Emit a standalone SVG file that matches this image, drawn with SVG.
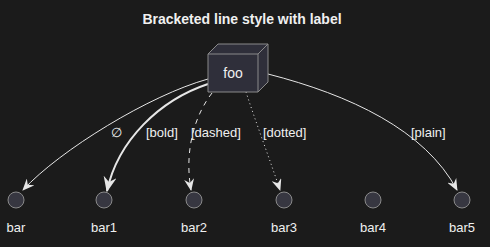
<svg xmlns="http://www.w3.org/2000/svg" width="490" height="247" viewBox="0 0 490 247">
<defs>
<style>
text{font-family:"Liberation Sans",Arial,sans-serif;fill:#f0f0f0}
.t{font-size:14px;font-weight:bold;text-anchor:middle}
.l{font-size:13px}
.n{font-size:13px;text-anchor:middle}
.c{fill:#373741;stroke:#8a8a8a;stroke-width:1}
.e{fill:none;stroke:#e6e6e6;stroke-width:1}
.box{fill:#2f2f3a;stroke:#8a8a8a;stroke-width:1}
</style>
<marker id="a" viewBox="0 0 12 10" refX="11" refY="5" markerWidth="12" markerHeight="10" markerUnits="userSpaceOnUse" orient="auto">
<path d="M0,0 L12,5 L0,10 L4,5 Z" fill="#e6e6e6"/>
</marker>
<marker id="ab" viewBox="0 0 12 10" refX="11" refY="5" markerWidth="16" markerHeight="13" markerUnits="userSpaceOnUse" orient="auto">
<path d="M0,0 L12,5 L0,10 L4,5 Z" fill="#e6e6e6"/>
</marker>
</defs>
<rect width="490" height="247" fill="#1b1b1b"/>
<text class="t" x="242" y="24">Bracketed line style with label</text>
<g id="connectors">
<path class="e" d="M208,79 C150,95 60,150 23,190" marker-end="url(#a)"/>
<path class="e" style="stroke-width:2" d="M208,84 C160,100 118,140 107,191" marker-end="url(#ab)"/>
<path class="e" style="stroke-dasharray:5,5" d="M212,93 C195,115 184,150 191,190" marker-end="url(#a)"/>
<path class="e" style="stroke-dasharray:1,3" d="M246,92 C255,120 270,160 280,190" marker-end="url(#a)"/>
<path class="e" d="M268,74 C350,95 425,130 457,190" marker-end="url(#a)"/>
<text class="l" x="111" y="137">∅</text>
<text class="l" x="146" y="137">[bold]</text>
<text class="l" x="191" y="137">[dashed]</text>
<text class="l" x="263" y="137">[dotted]</text>
<text class="l" x="411" y="137">[plain]</text>
</g>
<g id="foo">
<path class="box" d="M208,54 L218,44 L268,44 L268,82 L258,92 L208,92 Z"/>
<path class="box" d="M208,54 L258,54 L258,92 M258,54 L268,44" style="fill:none"/>
<text x="233" y="78" style="font-size:14px;text-anchor:middle">foo</text>
</g>
<g id="bar"><circle class="c" cx="16" cy="200" r="8"/><text class="n" x="16" y="232">bar</text></g>
<g id="bar1"><circle class="c" cx="104" cy="200" r="8"/><text class="n" x="104" y="232">bar1</text></g>
<g id="bar2"><circle class="c" cx="194" cy="200" r="8"/><text class="n" x="194" y="232">bar2</text></g>
<g id="bar3"><circle class="c" cx="284" cy="200" r="8"/><text class="n" x="284" y="232">bar3</text></g>
<g id="bar4"><circle class="c" cx="373" cy="200" r="8"/><text class="n" x="373" y="232">bar4</text></g>
<g id="bar5"><circle class="c" cx="462" cy="200" r="8"/><text class="n" x="462" y="232">bar5</text></g>
</svg>
